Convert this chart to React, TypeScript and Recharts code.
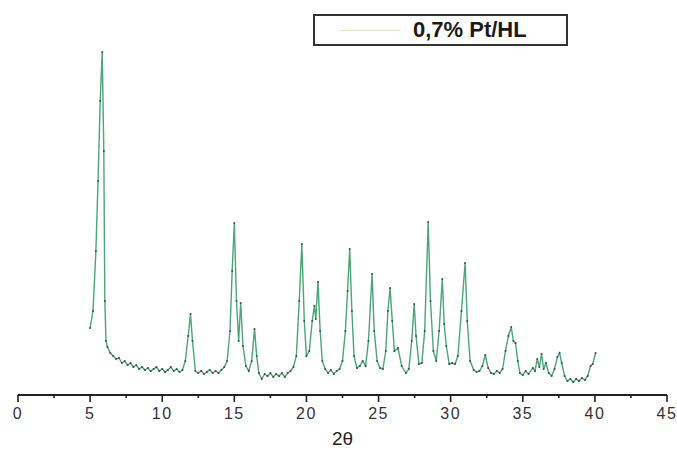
import { LineChart, Line, XAxis, YAxis, Legend } from 'recharts'

// 2θ positions (degrees)
const twoTheta = [
  5.0, 5.2, 5.4, 5.55, 5.7, 5.84, 5.95, 6.02, 6.1, 6.2, 6.4, 6.6, 6.8, 7.0, 7.2, 7.4, 7.6, 7.8, 8.0, 8.2,
  8.4, 8.6, 8.8, 9.0, 9.2, 9.4, 9.6, 9.8, 10.0, 10.2, 10.4, 10.6, 10.8, 11.0, 11.2, 11.4, 11.6, 11.8, 11.96, 12.1,
  12.3, 12.5, 12.7, 12.9, 13.1, 13.3, 13.5, 13.7, 13.9, 14.1, 14.3, 14.5, 14.7, 14.85, 15.0, 15.15, 15.3, 15.44, 15.6, 15.8,
  16.0, 16.2, 16.4, 16.55, 16.7, 16.9, 17.1, 17.3, 17.5, 17.7, 17.9, 18.1, 18.3, 18.5, 18.7, 18.9, 19.1, 19.3, 19.5, 19.68,
  19.85, 20.0, 20.2, 20.4, 20.55, 20.65, 20.8, 20.95, 21.1, 21.3, 21.5, 21.7, 21.9, 22.1, 22.3, 22.5, 22.7, 22.85, 23.0, 23.15,
  23.3, 23.5, 23.7, 23.9, 24.1, 24.3, 24.55, 24.7, 24.9, 25.1, 25.3, 25.5, 25.65, 25.8, 25.95, 26.1, 26.35, 26.6, 26.9, 27.1,
  27.3, 27.47, 27.6, 27.8, 28.0, 28.2, 28.44, 28.6, 28.8, 29.0, 29.2, 29.42, 29.55, 29.7, 29.9, 30.1, 30.3, 30.5, 30.75, 31.0,
  31.15, 31.35, 31.6, 31.8, 32.0, 32.2, 32.4, 32.6, 32.8, 33.0, 33.2, 33.4, 33.6, 33.8, 34.0, 34.2, 34.35, 34.5, 34.65, 34.8,
  35.0, 35.2, 35.4, 35.7, 35.85, 36.0, 36.15, 36.3, 36.45, 36.6, 36.8, 37.0, 37.2, 37.4, 37.55, 37.7, 37.9, 38.1, 38.3, 38.5,
  38.7, 38.9, 39.1, 39.3, 39.5, 39.7, 39.85, 40.05,
]

// intensity (arbitrary units)
const intensity = [
  67, 84, 144, 214, 294, 343, 244, 94, 54, 48, 42, 39, 36, 37, 32, 34, 30, 32, 28, 30,
  26, 28, 25, 27, 24, 26, 28, 24, 26, 23, 25, 28, 24, 26, 23, 25, 34, 59, 81, 54,
  24, 22, 24, 21, 23, 25, 22, 24, 22, 25, 28, 34, 64, 124, 172, 94, 54, 92, 49, 29,
  24, 34, 66, 39, 22, 16, 21, 19, 22, 18, 21, 19, 22, 18, 22, 24, 28, 39, 94, 151,
  74, 39, 44, 74, 89, 76, 113, 64, 34, 26, 22, 25, 21, 24, 26, 34, 64, 104, 146, 84,
  39, 27, 29, 34, 29, 54, 121, 64, 34, 27, 26, 44, 84, 107, 74, 44, 47, 29, 22, 26,
  54, 91, 59, 31, 32, 64, 173, 94, 44, 34, 64, 116, 71, 49, 31, 32, 31, 39, 84, 132,
  74, 34, 25, 23, 24, 29, 40, 27, 22, 21, 24, 22, 26, 44, 59, 68, 54, 52, 34, 22,
  20, 24, 21, 27, 24, 36, 28, 41, 26, 32, 22, 19, 26, 38, 42, 32, 19, 14, 16, 13,
  16, 14, 17, 15, 19, 29, 31, 42,
]

const xTicks = [0, 2.5, 5, 7.5, 10, 12.5, 15, 17.5, 20, 22.5, 25, 27.5, 30, 32.5, 35, 37.5, 40, 42.5, 45]

const seriesName = '0,7% Pt/HL'

const data = twoTheta.map((t, i) => ({ t, v: intensity[i] }))

const font = '"Liberation Sans", Arial, sans-serif'

function Tick(props: any) {
  const { x, y, payload } = props
  const major = payload.value % 5 === 0
  return (
    <g>
      <line x1={x} x2={x} y1={y} y2={y + (major ? 7 : 3)} stroke="#222" strokeWidth={1.6} />
      {major && (
        <text
          x={x}
          y={y + 24}
          textAnchor="middle"
          fontSize={16}
          letterSpacing={1.5}
          fontFamily={font}
          fill="#333"
        >
          {payload.value}
        </text>
      )}
    </g>
  )
}

function LegendBox() {
  return (
    <div
      style={{
        width: 255,
        height: 32,
        border: '2px solid #333',
        background: '#fff',
        display: 'flex',
        alignItems: 'center',
        boxSizing: 'border-box',
      }}
    >
      <div style={{ width: 62, height: 1, background: '#dfe8bf', marginLeft: 24 }} />
      <span style={{ marginLeft: 12, fontFamily: font, fontWeight: 'bold', fontSize: 22, color: '#1a1a1a' }}>
        {seriesName}
      </span>
    </div>
  )
}

export default function App() {
  return (
    <div style={{ position: 'absolute', left: 0, top: 0, width: 677, height: 450, background: '#fff' }}>
      <LineChart width={677} height={450} data={data} margin={{ top: 16, right: 10, bottom: 0, left: 18 }}>
        <XAxis
          dataKey="t"
          type="number"
          domain={[0, 45]}
          ticks={xTicks}
          interval={0}
          tickSize={0}
          tickMargin={0}
          tickLine={false}
          tick={<Tick />}
          height={55}
          axisLine={{ stroke: '#222', strokeWidth: 2 }}
          label={{ value: '2θ', position: 'insideBottom', offset: 5, fontSize: 19, fontFamily: font, fill: '#222' }}
        />
        <YAxis hide type="number" domain={[0, 379]} ticks={[0, 379]} allowDataOverflow />
        <Legend
          layout="horizontal"
          verticalAlign="middle"
          align="center"
          content={() => <LegendBox />}
          wrapperStyle={{ top: 14, left: 313, width: 255, height: 32 }}
        />
        <Line
          dataKey="v"
          name={seriesName}
          type="linear"
          stroke="#4aa57a"
          strokeWidth={1.4}
          dot={{ r: 1, fill: '#3b5247', stroke: 'none' }}
          isAnimationActive={false}
        />
      </LineChart>
    </div>
  )
}
